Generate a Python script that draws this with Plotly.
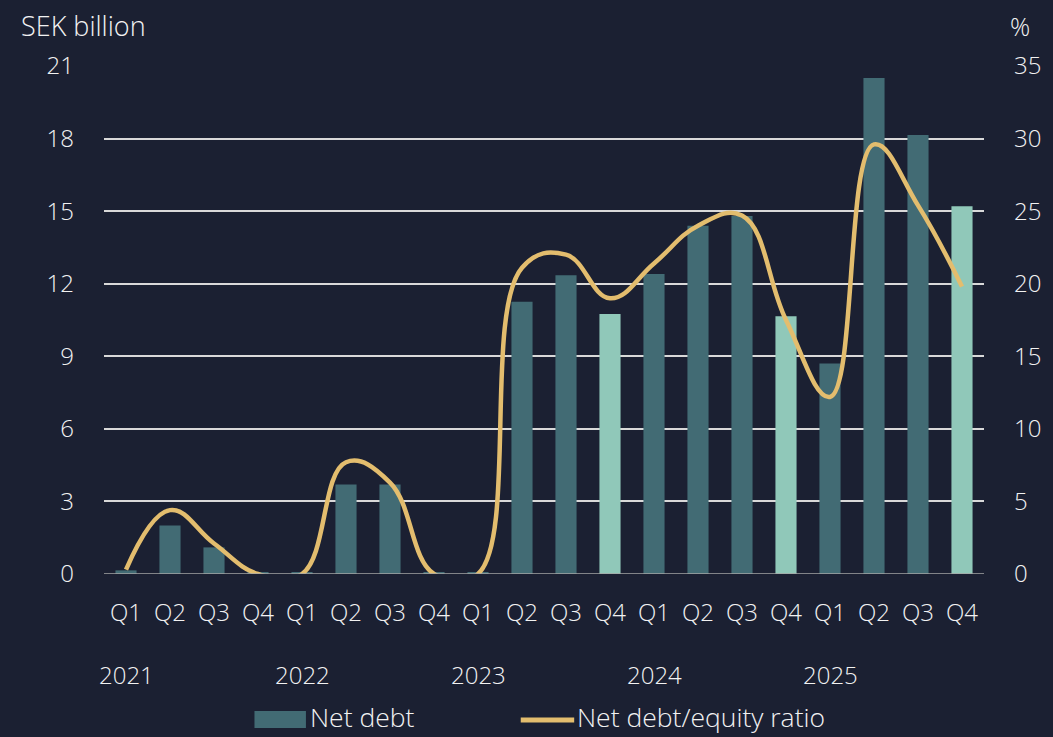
import plotly.graph_objects as go

quarters = ["Q1", "Q2", "Q3", "Q4"] * 5
years = ["2021", "2022", "2023", "2024", "2025"]
net_debt = [0.15, 2.0, 1.1, 0.05, 0.05, 3.7, 3.7, 0.05, 0.05, 11.25, 12.35, 10.75,
            12.4, 14.4, 14.8, 10.65, 8.7, 20.5, 18.15, 15.2]
ratio = [0.3, 4.4, 2.1, 0.0, 0.0, 7.7, 6.3, 0.0, 0.0, 21.1, 22.0, 19.0,
         21.4, 24.0, 24.7, 17.5, 12.2, 29.6, 25.4, 19.8]
highlight = [i % 4 == 3 and i >= 11 for i in range(20)]

BG = "#1b2032"
DARK = "#426b74"
LIGHT = "#90c8b9"
GOLD = "#e3bd6e"
TXT = "#f2f2f2"
FONT = "Open Sans"
TICK = 24

x = list(range(len(net_debt)))
fig = go.Figure()
fig.add_trace(go.Bar(
    x=x, y=net_debt, name="Net debt", width=0.48,
    marker=dict(color=[LIGHT if h else DARK for h in highlight], line=dict(width=0)),
    yaxis="y", showlegend=False,
))
fig.add_trace(go.Scatter(
    x=x, y=ratio, name="Net debt/equity ratio", mode="lines",
    line=dict(color=GOLD, width=4.5, shape="spline", smoothing=1.2),
    yaxis="y2", showlegend=False,
))

def tfont(size):
    return dict(size=size, color=TXT, family=FONT, weight=300)

def px_x(p):
    return (p - 104) / 889

def px_y(p):
    return (574 - p) / 508

annotations = []
for i, yr in enumerate(years):
    annotations.append(dict(x=i * 4, y=px_y(674), xref="x", yref="paper", text=yr,
                            showarrow=False, yanchor="middle", font=tfont(TICK)))
annotations.append(dict(x=px_x(18), y=px_y(26), xref="paper", yref="paper", text="SEK billion",
                        showarrow=False, xanchor="left", yanchor="middle", font=tfont(27)))
annotations.append(dict(x=px_x(1017), y=px_y(26), xref="paper", yref="paper", text="%",
                        showarrow=False, xanchor="left", yanchor="middle", font=tfont(25)))
# legend (manual)
annotations.append(dict(x=px_x(310), y=px_y(717), xref="paper", yref="paper", text="Net debt",
                        showarrow=False, xanchor="left", yanchor="middle", font=tfont(26.5)))
annotations.append(dict(x=px_x(580), y=px_y(717), xref="paper", yref="paper",
                        text="Net debt/equity ratio",
                        showarrow=False, xanchor="left", yanchor="middle", font=tfont(26.5)))

shapes = [
    dict(type="line", xref="paper", yref="y", x0=0, x1=1, y0=0, y1=0,
         line=dict(color="#a6a6a6", width=1.5), layer="above"),
    dict(type="rect", xref="paper", yref="paper", x0=px_x(256), x1=px_x(308),
         y0=px_y(728), y1=px_y(711), fillcolor=DARK, line=dict(width=0)),
    dict(type="line", xref="paper", yref="paper", x0=px_x(525), x1=px_x(579),
         y0=px_y(720), y1=px_y(720), line=dict(color=GOLD, width=5)),
]

fig.update_layout(
    width=1053, height=737,
    paper_bgcolor=BG, plot_bgcolor=BG,
    margin=dict(l=104, r=60, t=66, b=163),
    font=tfont(TICK),
    showlegend=False,
    xaxis=dict(tickmode="array", tickvals=x, ticktext=quarters, range=[-0.5, 19.5],
               showgrid=False, zeroline=False, showline=False, ticks="",
               ticklabelstandoff=22, tickfont=tfont(TICK)),
    yaxis=dict(range=[0, 21], tickvals=[0, 3, 6, 9, 12, 15, 18, 21], showgrid=True,
               gridcolor="#d9d9d9", gridwidth=1.5, zeroline=False, showline=False,
               ticks="", ticklabelstandoff=29, tickfont=tfont(TICK)),
    yaxis2=dict(range=[0, 35], tickvals=[0, 5, 10, 15, 20, 25, 30, 35], overlaying="y",
                side="right", showgrid=False, zeroline=False, showline=False, ticks="",
                ticklabelstandoff=29, tickfont=tfont(TICK)),
    annotations=annotations,
    shapes=shapes,
)

fig.write_html("out.html", config={"displayModeBar": False},
               post_script="document.body.style.margin='0';document.body.style.background='#1b2032';")
